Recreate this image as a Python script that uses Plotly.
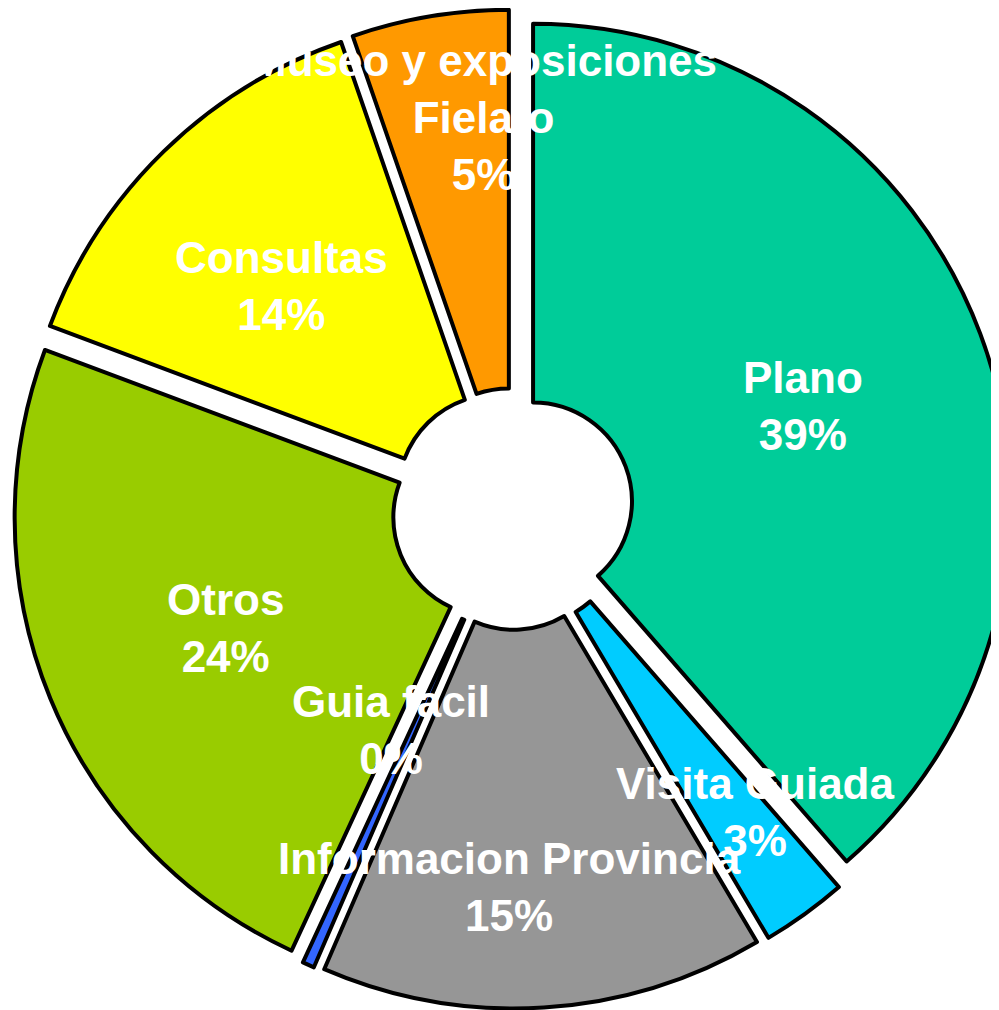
import math
import plotly.graph_objects as go

# ---- data ----
categories = ["Plano", "Visita Guiada", "Informacion Provincia", "Guia facil",
              "Otros", "Consultas", "Museo y exposiciones<br>Fielato"]
values = [38.6, 2.9, 15.0, 0.4, 23.8, 14.0, 5.3]
colors = ["#00CC99", "#00CCFF", "#969696", "#3366FF", "#99CC00", "#FFFF00", "#FF9900"]

# ---- label placement (styling) ----
label_radius = [0.645, 0.812, 0.791, 0.528, 0.651, 0.672, 0.823]
label_angle_offset = [1.0, -2.8, 4.1, 4.7, -0.2, -1.7, 5.3]

W, H = 1004, 1010
PULL = 0.046
HOLE = 0.207
DOM_X = [5 / W, 1.0]
DOM_Y = [0.0094, 0.9985]

fig = go.Figure(go.Pie(
    labels=categories,
    values=values,
    sort=False,
    direction="clockwise",
    rotation=0,
    hole=HOLE,
    pull=[PULL] * len(values),
    marker=dict(colors=colors, line=dict(color="black", width=4)),
    textinfo="none",
    hoverinfo="label+percent",
    showlegend=False,
    domain=dict(x=DOM_X, y=DOM_Y),
))

# compute label positions from the data angles (same geometry as the pie)
total = sum(values)
cx = W * (DOM_X[0] + DOM_X[1]) / 2
cy = H * (1 - (DOM_Y[0] + DOM_Y[1]) / 2)
r = min(W * (DOM_X[1] - DOM_X[0]), H * (DOM_Y[1] - DOM_Y[0])) / (2 + 2 * PULL)
cum = 0.0
annotations = []
for i, (cat, v) in enumerate(zip(categories, values)):
    mid = (cum + v / 2) / total * 360 + label_angle_offset[i]
    cum += v
    th = math.radians(mid)
    px = cx + label_radius[i] * r * math.sin(th)
    py = cy - label_radius[i] * r * math.cos(th)
    pct = round(v / total * 100)
    annotations.append(dict(
        x=px / W, y=1 - py / H, xref="paper", yref="paper",
        text=f"{cat}<br>{pct}%", showarrow=False,
        xanchor="center", yanchor="middle",
        font=dict(family="Liberation Sans, Arial, sans-serif", size=44, color="white", weight="bold"),
    ))

fig.update_layout(
    width=W, height=H,
    margin=dict(l=0, r=0, t=0, b=0),
    paper_bgcolor="white",
    plot_bgcolor="white",
    annotations=annotations,
)

fig.write_html("out.html")
